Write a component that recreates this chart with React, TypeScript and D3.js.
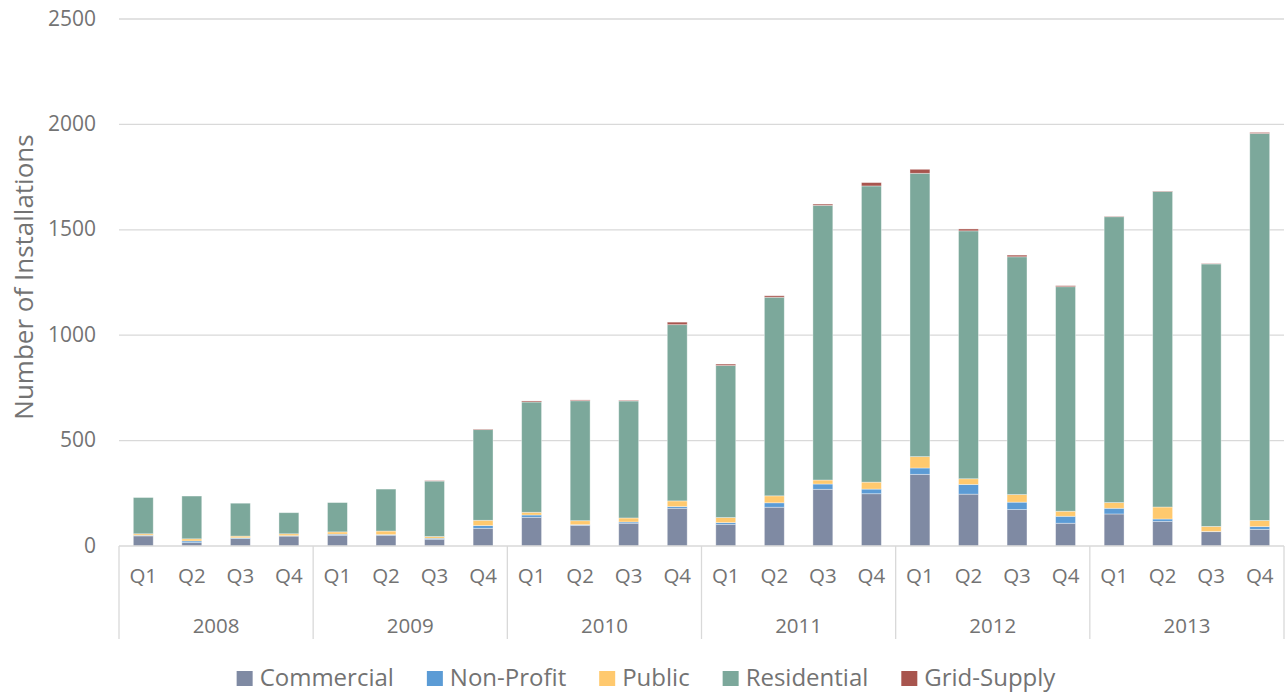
import React from "react";
import * as d3 from "d3";

const years = ["2008", "2009", "2010", "2011", "2012", "2013"];
const quarters = ["Q1", "Q2", "Q3", "Q4"];

// values, one per quarter, 2008 Q1 .. 2013 Q4
const commercial = [48, 16, 35, 47, 51, 51, 32, 84, 136, 98, 108, 179, 103, 184, 269, 248, 340, 246, 173, 108, 152, 117, 68, 79];
const nonProfit = [3, 8, 4, 2, 5, 3, 5, 13, 11, 3, 6, 8, 8, 21, 25, 22, 30, 46, 35, 33, 27, 11, 1, 13];
const publicSector = [7, 10, 8, 9, 11, 17, 8, 25, 13, 19, 19, 27, 24, 33, 19, 33, 54, 27, 36, 24, 27, 57, 24, 29];
const residential = [172, 203, 156, 100, 139, 199, 263, 430, 523, 569, 555, 836, 721, 942, 1303, 1405, 1344, 1176, 1128, 1065, 1356, 1497, 1245, 1836];
const gridSupply = [0, 0, 0, 0, 0, 0, 2, 3, 5, 4, 3, 12, 7, 7, 6, 16, 19, 9, 8, 5, 2, 2, 2, 5];

const seriesNames = ["Commercial", "Non-Profit", "Public", "Residential", "Grid-Supply"];
const seriesColors = ["#7f8aa3", "#5b9bd5", "#ffc96e", "#7ca89b", "#a8554e"];
const yTicks = [0, 500, 1000, 1500, 2000, 2500];

const W = 1286;
const H = 696;
const margin = { top: 19, right: 2, bottom: 150, left: 119 };
const FONT = "'Open Sans', sans-serif";
const TEXT = "#737373";
const GRID = "#d9d9d9";

const measure = (txt: string, size: number) => {
  const ctx = document.createElement("canvas").getContext("2d");
  if (!ctx) return txt.length * size * 0.55;
  ctx.font = `${size}px 'Open Sans'`;
  return ctx.measureText(txt).width;
};

export default function App() {
  const keys = years.flatMap((y) => quarters.map((q) => `${y}-${q}`));
  const rows = keys.map((k, i) => ({
    key: k,
    "Commercial": commercial[i],
    "Non-Profit": nonProfit[i],
    "Public": publicSector[i],
    "Residential": residential[i],
    "Grid-Supply": gridSupply[i],
  }));
  const stacked = d3.stack<any>().keys(seriesNames)(rows);

  const x = d3
    .scaleBand()
    .domain(keys)
    .range([margin.left, W - margin.right])
    .paddingInner(0.59)
    .paddingOuter(0.295);
  const y = d3.scaleLinear().domain([0, 2500]).range([H - margin.bottom, margin.top]);
  const base = y(0);
  const step = x.step();
  const startX = margin.left;

  // legend layout
  const legendSize = 24;
  const items = seriesNames.map((n) => ({ n, w: measure(n, legendSize) }));
  const totalW = d3.sum(items, (d) => 16 + 7 + d.w) + 33 * (items.length - 1);
  let lx = 646 - totalW / 2;
  const legend = items.map((d, i) => {
    const pos = lx;
    lx += 16 + 7 + d.w + 33;
    return { ...d, x: pos, color: seriesColors[i] };
  });

  return (
    <svg width={W} height={H} style={{ position: "absolute", left: 0, top: 0, background: "#fff" }} fontFamily={FONT}>
      {/* gridlines */}
      {yTicks.map((t) => (
        <g key={t}>
          {t > 0 && <line x1={startX} x2={W - margin.right} y1={y(t)} y2={y(t)} stroke={GRID} strokeWidth={1.3} />}
          <text x={96} y={y(t) + 6.5} textAnchor="end" fontSize={21} fill={TEXT}>
            {t}
          </text>
        </g>
      ))}

      {/* bars */}
      {stacked.map((s, si) => (
        <g key={s.key} fill={seriesColors[si]}>
          {s.map((d: any) => {
            const h = y(d[0]) - y(d[1]);
            if (h <= 0) return null;
            return (
              <rect
                key={d.data.key}
                x={x(d.data.key)}
                y={y(d[1])}
                width={x.bandwidth()}
                height={h}
                stroke="rgba(255,255,255,0.45)"
                strokeWidth={0.8}
              />
            );
          })}
        </g>
      ))}

      {/* x axis */}
      <line x1={startX} x2={W - margin.right} y1={base} y2={base} stroke={GRID} strokeWidth={1.3} />
      {years.map((yr, yi) => {
        const x0 = startX + yi * 4 * step;
        return (
          <g key={yr}>
            <line x1={x0} x2={x0} y1={base} y2={639} stroke={GRID} strokeWidth={1.3} />
            {quarters.map((q) => {
              const k = `${yr}-${q}`;
              return (
                <text key={k} x={(x(k) as number) + x.bandwidth() / 2} y={583} textAnchor="middle" fontSize={20.5} fill={TEXT}>
                  {q}
                </text>
              );
            })}
            <text x={x0 + 2 * step} y={632.5} textAnchor="middle" fontSize={20.5} fill={TEXT}>
              {yr}
            </text>
          </g>
        );
      })}
      <line x1={W - margin.right} x2={W - margin.right} y1={base} y2={639} stroke={GRID} strokeWidth={1.3} />

      {/* y axis title */}
      <text
        transform={`translate(33,${277}) rotate(-90)`}
        textAnchor="middle"
        fontSize={26}
        fill={TEXT}
      >
        Number of Installations
      </text>

      {/* legend */}
      {legend.map((d) => (
        <g key={d.n}>
          <rect x={d.x} y={671} width={16} height={15} fill={d.color} />
          <text x={d.x + 23} y={686} fontSize={legendSize} fill={TEXT}>
            {d.n}
          </text>
        </g>
      ))}
    </svg>
  );
}
